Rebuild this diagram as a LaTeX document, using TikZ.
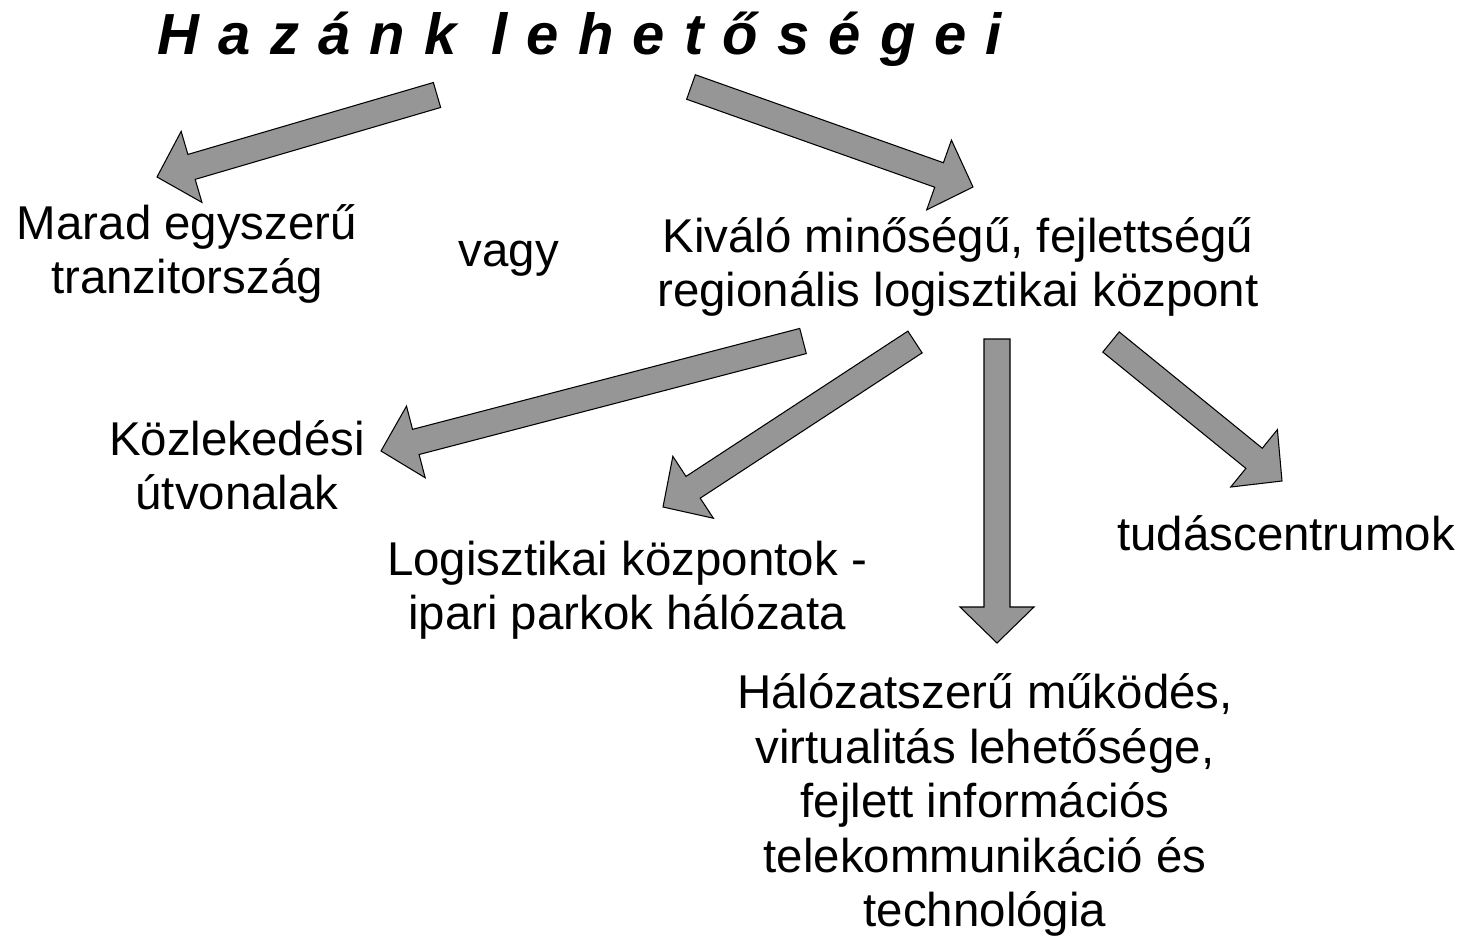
\documentclass[tikz,border=0pt]{standalone}
\usepackage{fontspec}
\setmainfont{Liberation Sans}
\usetikzlibrary{calc}
\definecolor{arrowgray}{RGB}{150,150,150}

\begin{document}
\begin{tikzpicture}
  [x=0.02cm,y=-0.02cm,
   every node/.style={align=center,inner sep=0pt,font=\fontsize{27}{31}\selectfont},
   blockarrow/.style={fill=arrowgray,draw=black,line width=0.6pt,line join=miter}]
  \useasboundingbox (0,0) rectangle (1461,941);

  \node (title) at (580,39) {\fontsize{33}{36}\selectfont\bfseries\itshape\addfontfeature{LetterSpace=33}Hazánk lehetőségei};
  \node (marad) at (187,254) {Marad egyszerű\\tranzitország};
  \node (vagy)  at (509,259) {vagy};
  \node (kival) at (958,267) {Kiváló minőségű, fejlettségű\\regionális logisztikai központ};
  \node (kozl)  at (237,465) {Közlekedési\\útvonalak};
  \node (logk)  at (627,590) {Logisztikai központok -\\ipari parkok hálózata};
  \node (tudas) at (1286,533) {tudáscentrumok};
  \node (halo)  at (985,805) {Hálózatszerű működés,\\virtualitás lehetősége,\\fejlett információs\\telekommunikáció és\\technológia};

  % arrow tails and tips
  \coordinate (t1) at (437,95);   \coordinate (h1) at (157,177);
  \coordinate (t2) at (691,87);   \coordinate (h2) at (973,187);
  \coordinate (t3) at (803,341);  \coordinate (h3) at (381,451);
  \coordinate (t4) at (915,342);  \coordinate (h4) at (663,507);
  \coordinate (t5) at (997,339);  \coordinate (h5) at (997,643);
  \coordinate (t6) at (1111,342); \coordinate (h6) at (1282,481);

\foreach \from/\to in
{t1/h1, t2/h2, t3/h3, t4/h4, t5/h5, t6/h6}
  {
    \coordinate (neck) at ($(\to)!0.72cm!(\from)$);
    \draw[blockarrow] ($(\from)!0.26cm!90:(\to)$) -- ($(neck)!0.26cm!90:(\to)$)
      -- ($(neck)!0.74cm!90:(\to)$) -- (\to) -- ($(neck)!0.74cm!-90:(\to)$)
      -- ($(neck)!0.26cm!-90:(\to)$) -- ($(\from)!0.26cm!-90:(\to)$) -- cycle;
  }
\end{tikzpicture}
\end{document}
